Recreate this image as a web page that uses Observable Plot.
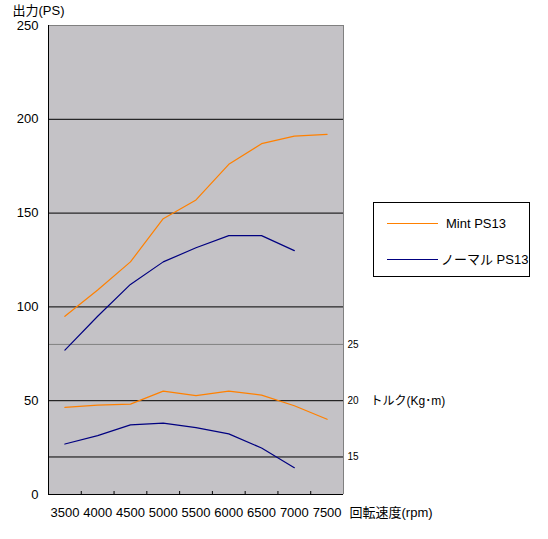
<!DOCTYPE html>
<html>
<head>
<meta charset="utf-8">
<script src="https://cdn.jsdelivr.net/npm/d3@7"></script>
<script src="https://cdn.jsdelivr.net/npm/@observablehq/plot@0.6"></script>
<style>
  body { margin: 0; background: #fff; font-family: "Liberation Sans", "Noto Sans CJK JP", sans-serif; }
  #wrap { position: relative; width: 548px; height: 539px; }
  #legend { position: absolute; left: 373px; top: 202px; width: 157px; height: 75px;
            border: 1px solid #000; box-sizing: border-box; background: #fff; font-size: 13px; color: #000; }
  .lg-row { position: absolute; left: 0; right: 0; height: 20px; }
  .lg-line { position: absolute; left: 13px; width: 51px; top: 9px; height: 0; border-top: 1px solid; }
  .lg-text { position: absolute; top: 0; line-height: 20px; white-space: nowrap; }
</style>
</head>
<body>
<div id="wrap"></div>
<script>
// ---- data ----
const rpm = [3500, 4000, 4500, 5000, 5500, 6000, 6500, 7000, 7500];
const seriesNames = ["Mint PS13", "ノーマル PS13"];
const mintPower = [95, 109, 124, 147, 157, 176, 187, 191, 192];
const normalPower = [77, 95, 112, 124, 131.5, 138, 138, 130];
const mintTorque = [19.4, 19.6, 19.7, 20.85, 20.45, 20.85, 20.5, 19.55, 18.35];
const normalTorque = [16.15, 16.9, 17.85, 18.0, 17.6, 17.05, 15.8, 14.05];
const powerTicks = [0, 50, 100, 150, 200, 250];
const torqueTicks = [15, 20, 25];
const powerLabel = "出力(PS)";
const torqueLabel = "トルク(Kg･m)";
const rpmLabel = "回転速度(rpm)";

// secondary (torque) axis mapped onto the power axis: 15→20, 20→50, 25→80
const torqueToPS = t => 6 * t - 70;

const colors = {"Mint PS13": "#ff8000", "ノーマル PS13": "#000080"};

function rows(values, series, kind) {
  return values.map((v, i) => ({rpm: rpm[i], value: kind === "torque" ? torqueToPS(v) : v, series, kind}));
}
const data = [
  ...rows(mintPower, seriesNames[0], "power"),
  ...rows(normalPower, seriesNames[1], "power"),
  ...rows(mintTorque, seriesNames[0], "torque"),
  ...rows(normalTorque, seriesNames[1], "torque")
];

const step = rpm[1] - rpm[0];
const xDomain = [rpm[0] - step / 2, rpm[rpm.length - 1] + step / 2];
const boundaries = rpm.slice(0, -1).map(r => r + step / 2);
const gridBlack = powerTicks.filter(v => v > 0 && v < 250).concat([torqueToPS(15)]);
const gridGray = [torqueToPS(25)];
const font = '"Liberation Sans", "Noto Sans CJK JP", sans-serif';

const chart = Plot.plot({
  width: 548,
  height: 539,
  marginLeft: 48,
  marginRight: 205,
  marginTop: 25,
  marginBottom: 45,
  style: {fontFamily: font, fontSize: "13px", color: "#000", background: "transparent"},
  x: {type: "linear", domain: xDomain},
  y: {domain: [powerTicks[0], powerTicks[powerTicks.length - 1]]},
  marks: [
    Plot.frame({fill: "#c4c2c6", stroke: null}),
    Plot.ruleY(gridBlack, {stroke: "#000", strokeWidth: 1}),
    Plot.ruleY(gridGray, {stroke: "#808080", strokeWidth: 1}),
    Plot.ruleY([powerTicks[powerTicks.length - 1]], {stroke: "#808080"}),
    Plot.ruleX([xDomain[1]], {stroke: "#808080"}),
    Plot.ruleX([xDomain[0]], {stroke: "#000"}),
    Plot.ruleY([0], {stroke: "#000"}),
    Plot.ruleX(boundaries, {y1: 0, y2: 0, insetBottom: 3, stroke: "#000"}),
    Plot.line(data, {
      x: "rpm", y: "value",
      z: d => d.series + d.kind,
      stroke: d => colors[d.series],
      strokeWidth: 1.2
    }),
    Plot.axisY(powerTicks, {tickSize: 0, tickPadding: 10, label: null, fontSize: 13}),
    Plot.axisX(rpm, {tickSize: 0, tickPadding: 13, label: null, fontSize: 13, tickFormat: d => String(d)}),
    Plot.text(torqueTicks, {
      frameAnchor: "right", y: t => torqueToPS(t), text: t => String(t),
      textAnchor: "start", dx: 4, fontSize: 10
    }),
    Plot.text([torqueLabel], {
      frameAnchor: "right", y: () => torqueToPS(20), text: d => d,
      textAnchor: "start", dx: 27, fontSize: 12
    }),
    Plot.text([rpmLabel], {
      frameAnchor: "right", y: () => 0, text: d => d,
      textAnchor: "start", lineAnchor: "top", dx: 6, dy: 13, fontSize: 13
    }),
    Plot.text([powerLabel], {
      frameAnchor: "top-left", text: d => d,
      textAnchor: "start", lineAnchor: "bottom", dx: -36, dy: -11, fontSize: 13
    })
  ]
});

const wrap = document.getElementById("wrap");
wrap.appendChild(chart);

// legend
const legend = d3.select(wrap).append("div").attr("id", "legend");
seriesNames.forEach((name, i) => {
  const row = legend.append("div").attr("class", "lg-row").style("top", (i === 0 ? 11 : 47) + "px");
  row.append("div").attr("class", "lg-line").style("border-color", colors[name]);
  row.append("div").attr("class", "lg-text").style("left", (i === 0 ? 72 : 67) + "px").text(name);
});
</script>
</body>
</html>
